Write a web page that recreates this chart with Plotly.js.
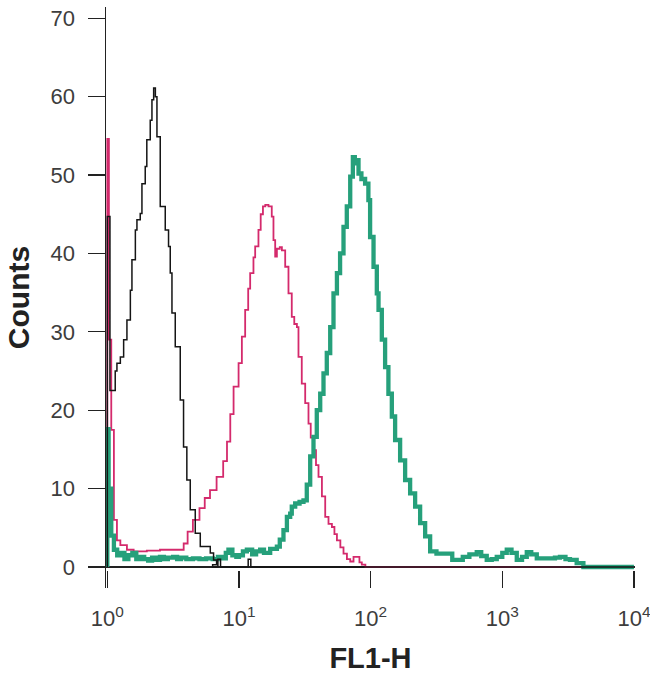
<!DOCTYPE html>
<html>
<head>
<meta charset="utf-8">
<script src="https://cdn.plot.ly/plotly-3.0.1.min.js"></script>
<style>html,body{margin:0;padding:0;background:#fff;}#chart{width:650px;height:685px;}</style>
</head>
<body>
<div id="chart"></div>
<script>
// FL1-H positions given in decades (log10 of intensity), counts
const blackDecade = [0,0,0.02,0.06,0.073,0.099,0.124,0.149,0.175,0.187,0.213,0.225,0.25,0.263,0.288,0.3,0.326,0.339,0.352,0.365,0.377,0.402,0.402,0.44,0.465,0.478,0.491,0.516,0.554,0.579,0.604,0.63,0.668,0.706,0.782,0.807,0.83,0.8,0.82,0.84,0.86,1.05,1.07,1.09,1.11,4.0];
const blackCounts = [0,44.7,22.5,25,26,26.8,29,31.5,35.3,39.2,43,44.3,45.1,48.9,51.1,54.5,57,59.6,61.1,60,54.9,54.9,46,43,40.9,37.5,32.4,28.1,21.3,15.3,11.1,7.3,4.3,2.6,1.8,0.9,0.3,0,0,1.0,0,0,1.0,0,0,0];

const magentaDecade = [0,0,0.012,0.03,0.05,0.073,0.099,0.149,0.2,0.3,0.4,0.529,0.554,0.58,0.61,0.65,0.70,0.74,0.78,0.83,0.88,0.909,0.934,0.959,0.997,1.022,1.047,1.07,1.085,1.11,1.123,1.148,1.165,1.182,1.2,1.224,1.249,1.262,1.275,1.288,1.31,1.326,1.351,1.376,1.401,1.42,1.44,1.452,1.477,1.503,1.528,1.545,1.566,1.585,1.604,1.63,1.655,1.68,1.706,1.725,1.744,1.77,1.794,1.82,1.845,1.87,1.895,1.915,1.933,1.96,4.0];
const magentaCounts = [0,54.6,29,17.5,6,3.4,2.8,2.2,2.0,2.1,2.2,2.2,2.2,3.0,4.5,6.0,7.5,8.8,9.8,11.5,13.5,16.0,19.5,23.0,26.0,29.4,32.8,35.5,37.5,39.5,40.9,43.0,45.0,46.0,46.2,46.0,44.7,41.7,39.6,40.6,40.8,40.4,38.3,34.9,31.9,31.0,30.6,26.8,23.4,20.9,18.3,16.5,14.9,13.0,11.5,9.0,6.4,5.5,5.1,4.2,3.4,2.5,1.7,1.0,0.7,1.3,1.3,0.6,0.3,0,0];

const tealDecade = [0,0,0.01,0.03,0.05,0.075,0.1,0.13,0.16,0.19,0.22,0.25,0.28,0.31,0.34,0.37,0.4,0.43,0.46,0.5,0.53,0.56,0.6,0.65,0.7,0.75,0.8,0.84,0.87,0.9,0.92,0.95,0.98,1.0,1.03,1.06,1.1,1.13,1.161,1.19,1.237,1.288,1.31,1.338,1.364,1.389,1.401,1.427,1.46,1.49,1.515,1.541,1.566,1.591,1.617,1.642,1.667,1.693,1.718,1.744,1.768,1.794,1.819,1.845,1.865,1.88,1.895,1.908,1.93,1.958,1.983,1.996,2.022,2.047,2.06,2.085,2.11,2.135,2.161,2.186,2.224,2.262,2.3,2.338,2.376,2.414,2.452,2.5,2.578,2.62,2.654,2.7,2.75,2.806,2.84,2.882,2.92,2.958,3.0,3.034,3.07,3.11,3.15,3.186,3.22,3.262,3.3,3.338,3.4,3.438,3.48,3.514,3.565,3.616,4.0];
const tealCounts = [0,17.6,10,4,2.2,1.5,1.8,1.0,1.5,1.8,1.0,1.3,1.0,0.8,1.2,0.9,1.3,1.0,1.2,1.3,1.0,1.2,1.0,1.1,1.0,1.1,1.0,1.3,1.1,1.8,2.2,1.5,1.3,1.5,2.0,2.2,1.6,2.0,2.2,1.8,2.3,2.6,3.5,4.7,6.4,6.8,7.7,8.1,8.3,8.5,10.5,14.1,16.6,20.0,22.1,24.7,27.3,30.6,34.9,37.5,40.0,43.4,46.0,49.8,52.3,51.5,51.9,50.2,49.5,48.9,46.8,42.1,38.3,34.9,32.8,29.0,25.5,22.1,19.2,16.2,13.6,11.1,9.4,7.7,5.6,3.9,2.0,1.7,1.7,0.9,0.9,1.3,1.6,1.9,1.4,0.9,1.0,1.3,1.8,2.2,1.8,0.9,1.3,1.9,1.6,1.1,1.1,1.1,1.2,1.3,1.0,0.9,0.5,0,0];

const xTickVals = [1, 10, 100, 1000, 10000];
const xTickText = ['10<sup>0</sup>', '10<sup>1</sup>', '10<sup>2</sup>', '10<sup>3</sup>', '10<sup>4</sup>'];
const yTickVals = [0, 10, 20, 30, 40, 50, 60, 70];

const toIntensity = arr => arr.map(d => Math.pow(10, d));

const tickFont = {family: '"Liberation Sans Narrow", "Arial Narrow", "Liberation Sans", Arial, sans-serif', size: 22, color: '#3d3d3d'};

const traces = [
  {x: toIntensity(magentaDecade), y: magentaCounts, type: 'scatter', mode: 'lines', line: {shape: 'hv', color: '#d42a6c', width: 1.8}, name: 'magenta'},
  {x: toIntensity(tealDecade), y: tealCounts, type: 'scatter', mode: 'lines', line: {shape: 'hv', color: '#26a07b', width: 4.3}, name: 'teal'},
  {x: toIntensity(blackDecade), y: blackCounts, type: 'scatter', mode: 'lines', line: {shape: 'hv', color: '#151515', width: 1.5}, name: 'black'}
];

const layout = {
  width: 650, height: 685,
  margin: {l: 106, r: 15, t: 7, b: 97},
  paper_bgcolor: '#ffffff', plot_bgcolor: '#ffffff',
  showlegend: false,
  xaxis: {
    type: 'log', range: [-0.01, 4.008],
    tickvals: xTickVals, ticktext: xTickText,
    ticks: 'inside', ticklen: 17, tickwidth: 1.2, tickcolor: '#222',
    showline: false, showgrid: false, zeroline: false,
    tickfont: tickFont, ticklabelstandoff: 15, ticklabeloverflow: 'allow',
    title: {text: '<b>FL1-H</b>', font: {family: '"Liberation Sans", Arial, sans-serif', size: 29, color: '#222'}, standoff: 17},
    automargin: false
  },
  yaxis: {
    range: [-2.68, 71.44],
    tickvals: yTickVals,
    ticks: 'outside', ticklen: 17, tickwidth: 1.2, tickcolor: '#222',
    showline: true, linecolor: '#222', linewidth: 1.5,
    showgrid: false, zeroline: true, zerolinecolor: '#222', zerolinewidth: 1.5,
    tickfont: tickFont, ticklabelstandoff: 8,
    title: {text: '<b>Counts</b>', font: {family: '"Liberation Sans", Arial, sans-serif', size: 30, color: '#222'}, standoff: 12},
    automargin: false
  }
};

Plotly.newPlot('chart', traces, layout, {displayModeBar: false, staticPlot: true});
</script>
</body>
</html>
